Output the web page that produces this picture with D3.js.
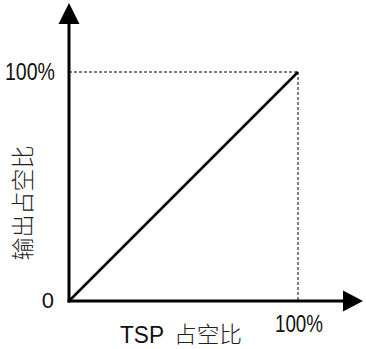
<!DOCTYPE html>
<html><head><meta charset="utf-8">
<script src="https://cdn.jsdelivr.net/npm/d3@7"></script>
<style>html,body{margin:0;padding:0;background:#fff;}svg{display:block;}</style>
</head><body>
<svg id="c" width="366" height="349"></svg>
<script>
const xValues = [0, 100];
const yValues = [0, 100];
const xTickLabels = ["100%"];
const yTickLabels = ["0", "100%"];
const xTitleLatin = "TSP";
const xTitleCJK = "占空比";
const yTitle = "输出占空比";

const svg = d3.select("#c");
const x = d3.scaleLinear().domain([0, 100]).range([69, 298]);
const y = d3.scaleLinear().domain([0, 100]).range([301, 72]);

// dashed guides
svg.append("line").attr("x1", x(0)).attr("x2", x(100)).attr("y1", y(100)).attr("y2", y(100))
  .attr("stroke", "#000").attr("stroke-width", 1).attr("stroke-dasharray", "3,2");
svg.append("line").attr("x1", x(100)).attr("x2", x(100)).attr("y1", y(100)).attr("y2", y(0))
  .attr("stroke", "#000").attr("stroke-width", 1).attr("stroke-dasharray", "3,2");

// data line
const pts = xValues.map((v, i) => [v, yValues[i]]);
svg.append("path").attr("d", d3.line().x(d => x(d[0])).y(d => y(d[1]))(pts))
  .attr("fill", "none").attr("stroke", "#000").attr("stroke-width", 2.5);

// axes
const x0 = x(0), y0 = y(0);
svg.append("line").attr("x1", x0).attr("x2", x0).attr("y1", y0 + 1.5).attr("y2", 20)
  .attr("stroke", "#000").attr("stroke-width", 3);
svg.append("line").attr("x1", x0 - 1.5).attr("x2", 348).attr("y1", y0).attr("y2", y0)
  .attr("stroke", "#000").attr("stroke-width", 3);
svg.append("path").attr("d", `M${x0},3 L${x0 + 10.5},24 L${x0 - 10.5},24 Z`).attr("fill", "#000");
svg.append("path").attr("d", `M363,${y0} L343,${y0 - 10.5} L343,${y0 + 10.5} Z`).attr("fill", "#000");

const fontLat = "'Liberation Sans', Arial, sans-serif";
const fontCJK = "'Noto Sans CJK SC', sans-serif";
// y tick labels
svg.append("text").attr("x", 5).attr("y", 80)
  .attr("textLength", 50).attr("lengthAdjust", "spacingAndGlyphs")
  .attr("font-family", fontLat).attr("font-size", 24).attr("fill", "#111").text(yTickLabels[1]);
svg.append("text").attr("x", 54).attr("y", 308).attr("text-anchor", "end")
  .attr("font-family", fontLat).attr("font-size", 22).attr("fill", "#111").text(yTickLabels[0]);
// x tick label
svg.append("text").attr("x", 275).attr("y", 332)
  .attr("textLength", 48).attr("lengthAdjust", "spacingAndGlyphs")
  .attr("font-family", fontLat).attr("font-size", 23).attr("fill", "#111").text(xTickLabels[0]);
// x title
svg.append("text").attr("x", 120).attr("y", 343)
  .attr("textLength", 44).attr("lengthAdjust", "spacingAndGlyphs")
  .attr("font-family", fontLat).attr("font-size", 23).attr("fill", "#111").text(xTitleLatin);
svg.append("text").attr("x", 174).attr("y", 342)
  .attr("textLength", 68).attr("lengthAdjust", "spacingAndGlyphs")
  .attr("font-family", fontCJK).attr("font-weight", 300).attr("font-size", 22).attr("fill", "#222").text(xTitleCJK);
// y title
svg.append("text").attr("transform", "translate(31,203) rotate(-90)").attr("text-anchor", "middle")
  .attr("font-family", fontCJK).attr("font-weight", 300).attr("font-size", 23).attr("fill", "#222").text(yTitle);
</script>
</body></html>
